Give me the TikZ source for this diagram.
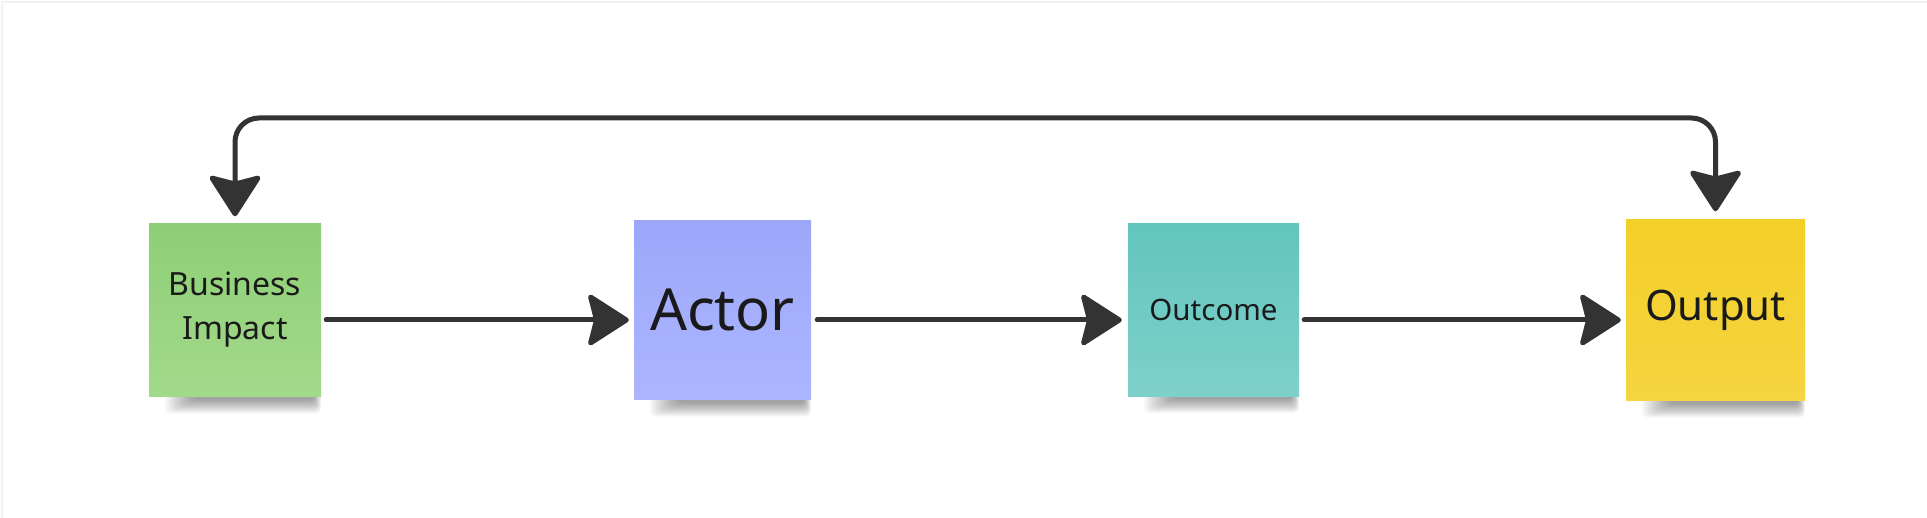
\documentclass[tikz,border=0pt]{standalone}
\usepackage{fontspec}
\setmainfont{Noto Sans}
\usetikzlibrary{arrows.meta,calc,backgrounds}
\definecolor{linec}{HTML}{333333}
\definecolor{textc}{HTML}{1A1A1A}
\definecolor{gtop}{HTML}{8ECF76}\definecolor{gbot}{HTML}{A3D98B}
\definecolor{btop}{HTML}{9CA7FA}\definecolor{bbot}{HTML}{ACB6FF}
\definecolor{ttop}{HTML}{62C5BE}\definecolor{tbot}{HTML}{7ED1CA}
\definecolor{ytop}{HTML}{F3CF28}\definecolor{ybot}{HTML}{F5D540}
\tikzset{
  sticky/.style={rectangle, inner sep=0pt, text=textc, align=center},
  headtip/.tip={Stealth[length=44pt,width=56pt,inset=7pt,round]},
  conn/.style={draw=linec, line width=5pt, line cap=round, -headtip},
  loopconn/.style={draw=linec, line width=5pt, rounded corners=24pt, headtip-headtip},
}
\newcommand{\stickshadow}[1]{%
  \foreach \k in {0,...,14}{%
    \fill[black,opacity=0.028,rounded corners=5pt] ($(#1.south west)+(16+2*\k,-6)$) rectangle ($(#1.south east)+(-0.5*\k,17-\k)$);
  }%
}
\begin{document}
\begin{tikzpicture}[x=1pt,y=-1pt]
\useasboundingbox (0,0) rectangle (1927,518);

\node[sticky, minimum width=172pt, minimum height=173pt, top color=gtop, bottom color=gbot,
  font=\fontsize{32}{44}\selectfont] (green) at (235,310) {Business\\Impact};
\node[sticky, minimum width=177pt, minimum height=179pt, top color=btop, bottom color=bbot,
  font=\fontsize{58}{66}\selectfont] (blue) at (722.5,310) {Actor};
\node[sticky, minimum width=171pt, minimum height=172pt, top color=ttop, bottom color=tbot,
  font=\fontsize{29.5}{36}\selectfont] (teal) at (1213.5,310) {Outcome};
\node[sticky, minimum width=179pt, minimum height=181pt, top color=ytop, bottom color=ybot,
  font=\fontsize{42}{50}\selectfont] (yellow) at (1715.5,310) {Output};

\begin{pgfonlayer}{background}
\fill[white] (0,0) rectangle (1927,518);
\draw[black!5,line width=2pt] (2,518) -- (2,2) -- (1927,2);
\stickshadow{green}
\stickshadow{blue}
\stickshadow{teal}
\stickshadow{yellow}
\end{pgfonlayer}

\draw[conn] ([shift={(5pt,-10pt)}]green.east) -- ([shift={(-5pt,-10pt)}]blue.west);
\draw[conn] ([shift={(6pt,-10pt)}]blue.east) -- ([shift={(-6pt,-10pt)}]teal.west);
\draw[conn] ([shift={(5pt,-10pt)}]teal.east) -- ([shift={(-5pt,-10pt)}]yellow.west);

\coordinate (top) at (1000,118);
\draw[loopconn] ([yshift=8pt]yellow.north) |- (top) -| ([yshift=7pt]green.north);
\end{tikzpicture}
\end{document}
